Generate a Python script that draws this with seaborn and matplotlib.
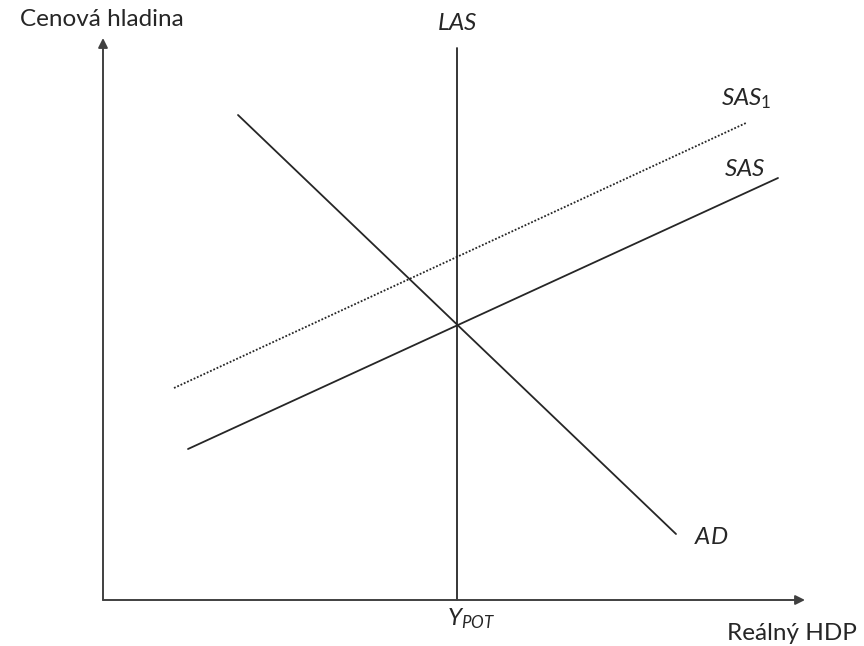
import matplotlib
matplotlib.use('Agg')
import matplotlib.pyplot as plt
import seaborn as sns
import pandas as pd

sns.set_theme(style='white')
plt.rcParams['font.family'] = ['Lato', 'DejaVu Sans']
plt.rcParams['mathtext.fontset'] = 'custom'
plt.rcParams['mathtext.it'] = 'Lato:italic'
plt.rcParams['mathtext.rm'] = 'Lato'

# schematic AD-AS diagram, units: origin of axes = (0, 0)
y_pot = 354
las_y = [0, 552]
ad_x = [135, 573]
ad_y = [485, 66]
sas_x = [85, 675]
sas_y = [151, 422]
sas1_x = [71, 643]
sas1_y = [212, 477]
x_axis_end = 702
y_axis_end = 562

curves = pd.DataFrame({
    'x': [y_pot, y_pot] + ad_x + sas_x + sas1_x,
    'y': las_y + ad_y + sas_y + sas1_y,
    'krivka': ['LAS'] * 2 + ['AD'] * 2 + ['SAS'] * 2 + ['SAS1'] * 2,
})

col = '#262626'
fig = plt.figure(figsize=(8.64, 6.46), dpi=100)
ax = fig.add_axes([0, 0, 1, 1])
ax.set_xlim(-103, 761)
ax.set_ylim(-46, 600)
ax.axis('off')

sns.lineplot(data=curves, x='x', y='y', hue='krivka', style='krivka',
             palette={'LAS': col, 'AD': col, 'SAS': col, 'SAS1': col},
             dashes={'LAS': '', 'AD': '', 'SAS': '', 'SAS1': (1, 1)},
             lw=1.3, legend=False, ax=ax, estimator=None, sort=False)

arrow = dict(arrowstyle='-|>', color='#404040', lw=1.4, mutation_scale=14,
             shrinkA=0, shrinkB=0)
ax.annotate('', xy=(0, y_axis_end), xytext=(0, 0), arrowprops=arrow)
ax.annotate('', xy=(x_axis_end, 0), xytext=(0, 0), arrowprops=arrow)

fs = 17.5
ax.text(-1, 580, 'Cenová hladina', fontsize=fs, ha='center', va='center')
ax.text(y_pot, 576, '$LAS$', fontsize=fs, ha='center', va='center')
ax.text(643, 501, '$SAS_1$', fontsize=fs, ha='center', va='center')
ax.text(642, 431, '$SAS$', fontsize=fs, ha='center', va='center')
ax.text(608, 63, '$AD$', fontsize=fs, ha='center', va='center')
ax.text(368, -19, '$Y_{POT}$', fontsize=fs, ha='center', va='center')
ax.text(689, -33, 'Reálný HDP', fontsize=fs, ha='center', va='center')

fig.savefig('out.png', dpi=100, facecolor='white')
plt.close()
